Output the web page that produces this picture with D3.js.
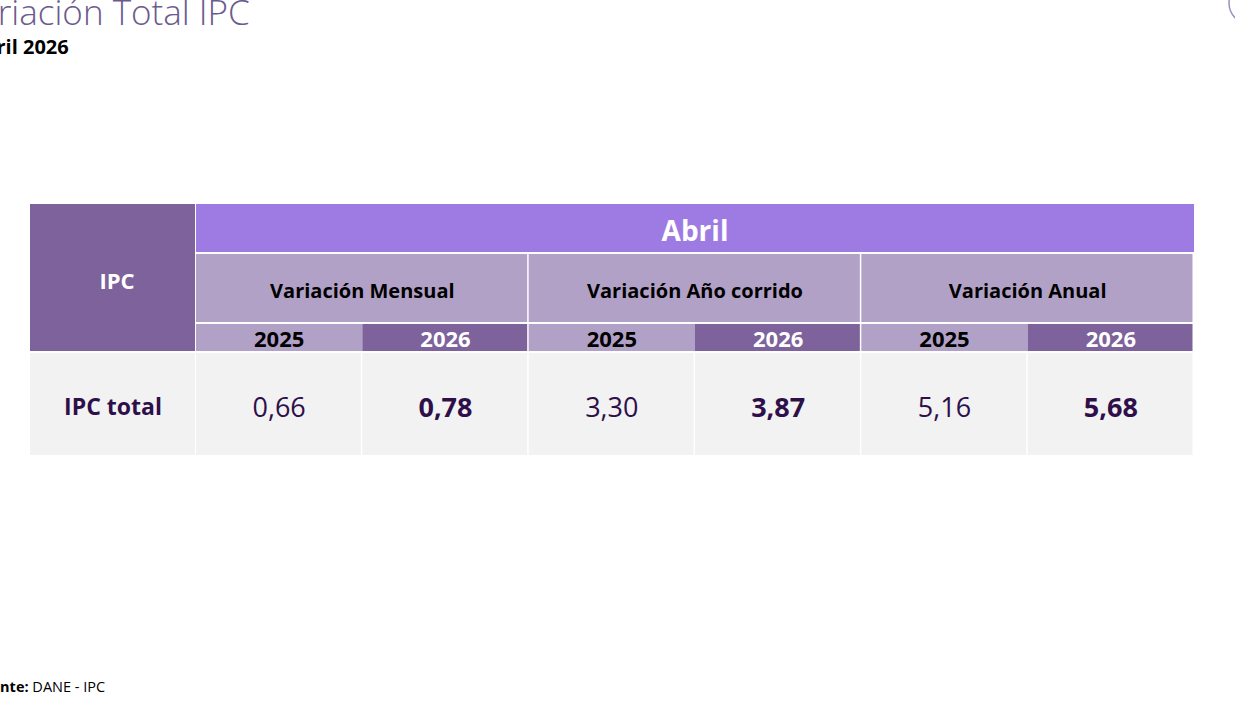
<!DOCTYPE html>
<html lang="en">
<head>
<meta charset="UTF-8">
<title>Variación Total IPC</title>
<style>
  body { margin: 0; background: #fff; font-family: "Open Sans", sans-serif; overflow: hidden; }
</style>
</head>
<body>
<div id="chart"></div>
<script src="https://d3js.org/d3.v7.min.js"></script>
<script>
// data
const month = "Abril";
const groups = ["Variación Mensual", "Variación Año corrido", "Variación Anual"];
const years = ["2025", "2026"];
const values2025 = ["0,66", "3,30", "5,16"];
const values2026 = ["0,78", "3,87", "5,68"];
const rowLabel = "IPC total";

const W = 1235, H = 706;
const svg = d3.select("#chart").append("svg").attr("width", W).attr("height", H);

// titles (clipped at left edge like the slide)
svg.append("text").attr("x", -41).attr("y", 25)
  .style("font-size", "35px").style("font-weight", 300).attr("fill", "#6a5a8e")
  .text("Variación Total IPC");
svg.append("text").attr("x", -30).attr("y", 54)
  .style("font-size", "20px").style("font-weight", 700).attr("fill", "#000")
  .text("Abril 2026");
svg.append("circle").attr("cx", 1250).attr("cy", 3).attr("r", 21)
  .attr("fill", "none").attr("stroke", "#9a8fc0").attr("stroke-width", 1.5);
const foot = svg.append("text").attr("x", -26).attr("y", 692).style("font-size", "14.5px").attr("fill", "#000");
foot.append("tspan").style("font-weight", 700).text("Fuente:");
foot.append("tspan").text(" DANE - IPC");

// scales
const cols = [];
groups.forEach((g, i) => years.forEach(y => cols.push({ g: i, y, v: y === "2025" ? values2025[i] : values2026[i] })));
const xg = d3.scaleBand().domain(d3.range(groups.length)).range([196, 1194]);
const xc = d3.scaleBand().domain(d3.range(cols.length)).range([196, 1194]);
const gap = 1.5;

const C = { dark: "#7d629b", abril: "#9d7be3", mid: "#b2a1c7", cell: "#f2f2f2", val: "#2e0f4a" };

// IPC header
svg.append("rect").attr("x", 30).attr("y", 204).attr("width", 165).attr("height", 147).attr("fill", C.dark);
svg.append("text").attr("x", 117).attr("y", 289).attr("text-anchor", "middle")
  .style("font-size", "22px").style("font-weight", 700).attr("fill", "#fff").text("IPC");

// month
svg.append("rect").attr("x", 196).attr("y", 204).attr("width", 998).attr("height", 48).attr("fill", C.abril);
svg.append("text").attr("x", 695).attr("y", 241).attr("text-anchor", "middle")
  .style("font-size", "28px").style("font-weight", 700).attr("fill", "#fff").text(month);

// groups
svg.selectAll(".g").data(groups).join("rect")
  .attr("x", (d, i) => xg(i)).attr("y", 254).attr("width", xg.bandwidth() - gap).attr("height", 68).attr("fill", C.mid);
svg.selectAll(".gt").data(groups).join("text")
  .attr("x", (d, i) => xg(i) + xg.bandwidth() / 2).attr("y", 298).attr("text-anchor", "middle")
  .style("font-size", "20px").style("font-weight", 700).attr("fill", "#000").text(d => d);

// years
svg.selectAll(".y").data(cols).join("rect")
  .attr("x", (d, i) => xc(i)).attr("y", 324).attr("width", (d, i) => xc.bandwidth() - (i % 2 ? gap : 0)).attr("height", 27)
  .attr("fill", d => d.y === "2025" ? C.mid : C.dark);
svg.selectAll(".yt").data(cols).join("text")
  .attr("x", (d, i) => xc(i) + xc.bandwidth() / 2).attr("y", 347).attr("text-anchor", "middle")
  .style("font-size", "22px").style("font-weight", 700).attr("fill", d => d.y === "2025" ? "#000" : "#fff").text(d => d.y);

// data row
svg.append("rect").attr("x", 30).attr("y", 353).attr("width", 165).attr("height", 102).attr("fill", C.cell);
svg.append("text").attr("x", 113).attr("y", 415).attr("text-anchor", "middle")
  .style("font-size", "23px").style("font-weight", 700).attr("fill", C.val).text(rowLabel);
svg.selectAll(".c").data(cols).join("rect")
  .attr("x", (d, i) => xc(i)).attr("y", 353).attr("width", xc.bandwidth() - gap).attr("height", 102).attr("fill", C.cell);
svg.selectAll(".ct").data(cols).join("text")
  .attr("x", (d, i) => xc(i) + xc.bandwidth() / 2).attr("y", 417).attr("text-anchor", "middle")
  .style("font-size", "27px").style("font-weight", d => d.y === "2026" ? 700 : 400)
  .attr("fill", C.val).text(d => d.v);
</script>
</body>
</html>
